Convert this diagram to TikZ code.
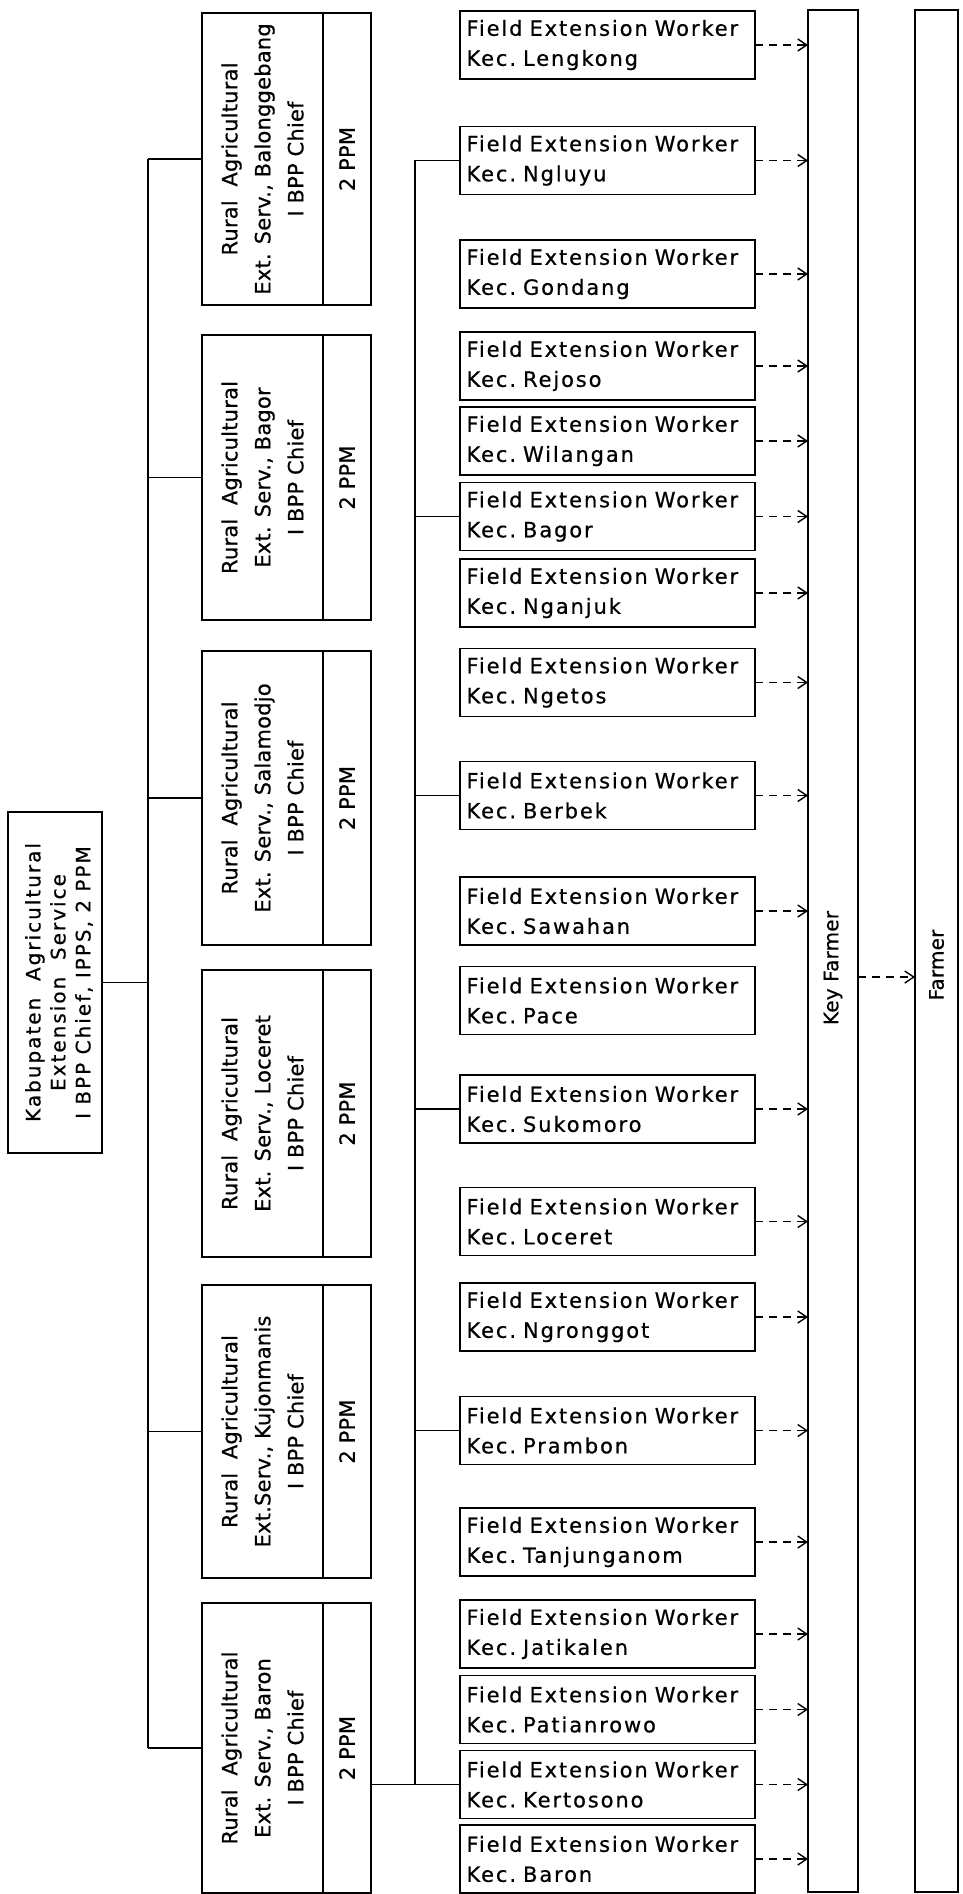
\documentclass[tikz,border=0pt]{standalone}
\usepackage{fontspec}
\setmainfont{DejaVu Sans}
\newfontfamily\kabfont[LetterSpace=10,FakeBold=0.6]{DejaVu Sans}
\newfontfamily\raesfont[LetterSpace=1,FakeBold=0.6]{DejaVu Sans}
\newfontfamily\fewfont[LetterSpace=9,FakeBold=0.6]{DejaVu Sans}
\newfontfamily\farmfont[LetterSpace=1,FakeBold=0.6]{DejaVu Sans}
\usetikzlibrary{arrows.meta,positioning}

\tikzset{
    box/.style={draw, line width=1.6pt, inner sep=0pt, outer sep=0pt},
    raesbox/.style={box, minimum width=121pt},
    ppmbox/.style={box, minimum width=48pt},
    fewbox/.style={box, minimum width=295pt, minimum height=68pt,
        text width=282pt, align=left,
        font={\fewfont\fontsize{21}{30}\selectfont}},
    farmbox/.style={box, minimum height=1882pt},
    raestext/.style={rotate=90, align=center,
        font={\raesfont\fontsize{21}{33}\selectfont}},
    farmtext/.style={rotate=90, font={\farmfont\fontsize{20}{24}\selectfont}},
    bus/.style={line width=1.4pt},
    flow/.style={line width=1.4pt, dash pattern=on 8pt off 6pt,
        -{Straight Barb[length=9pt,width=12pt,line width=1.4pt]}}
}

\begin{document}
\begin{tikzpicture}[x=1pt,y=-1pt]

    \useasboundingbox (0,0) rectangle (962,1894);

    % kabupaten office
    \node[box, minimum width=94pt, minimum height=341pt] (kab) at (55,982.5) {};
    \node[rotate=90, align=center, font={\kabfont\fontsize{20}{25}\selectfont}]
        at ([xshift=4pt]kab.center)
        {Kabupaten\ \ Agricultural\\Extension\ \ Service\\I BPP Chief, IPPS, 2 PPM};

    % rural agricultural extension services
    \foreach \n/\y/\h/\place in {
        1/159/292/{Ext. Serv., Balonggebang},
        2/477.5/285/{Ext. Serv., Bagor},
        3/798/294/{Ext. Serv., Salamodjo},
        4/1113.5/287/{Ext. Serv., Loceret},
        5/1431.5/293/{Ext.Serv., Kujonmanis},
        6/1748/290/{Ext. Serv., Baron}} {

        \node[raesbox, minimum height=\h pt] (raes\n) at (262.5,\y) {};
        \node[ppmbox, minimum height=\h pt, right=0pt of raes\n] (ppm\n) {};
        \node[raestext] at (raes\n) {Rural\ \ Agricultural\\\place\\I BPP Chief};
        \node[raestext] at (ppm\n) {2 PPM};

    }

    % field extension workers
    \foreach \n/\y/\kec in {
        1/45/Lengkong, 2/160.5/Ngluyu, 3/274/Gondang, 4/366/Rejoso,
        5/441/Wilangan, 6/516.5/Bagor, 7/593/Nganjuk, 8/682.5/Ngetos,
        9/795.5/Berbek, 10/911/Sawahan, 11/1000.5/Pace, 12/1109/Sukomoro,
        13/1221.5/Loceret, 14/1317/Ngronggot, 15/1430.5/Prambon,
        16/1542/Tanjunganom, 17/1634/Jatikalen, 18/1709.5/Patianrowo,
        19/1784.5/Kertosono, 20/1859/Baron} {
        \node[fewbox] (few\n) at (607.5,\y) {Field Extension Worker\\Kec.\ \kec};
    }

    % key farmer and farmer
    \node[farmbox, minimum width=50pt] (key) at (833,951) {};
    \node[farmbox, minimum width=43pt] (farmer) at (936.5,951) {};
    \node[farmtext] at ([yshift=-17pt]key.center) {Key Farmer};
    \node[farmtext] at ([yshift=-14pt]farmer.center) {Farmer};

    % spines
    \coordinate (spine) at (148,0);
    \coordinate (fewspine) at (415,0);
    \draw[bus] (spine |- raes1.west) -- (spine |- raes6.west);
    \foreach \n in {1,2,3,5,6} {
        \draw[bus] (spine |- raes\n.west) -- (raes\n.west);
    }
    \draw[bus] (kab.east) -- (spine |- kab.east);

    \draw[bus] (fewspine |- few2.west) -- (fewspine |- few19.west);
    \foreach \n in {2,6,9,12,15} {
        \draw[bus] (fewspine |- few\n.west) -- (few\n.west);
    }
    \draw[bus] (ppm6.east |- few19.west) -- (few19.west);

    % guidance to farmers
    \foreach \n in {1,...,10,12,13,...,20} {
        \draw[flow] (few\n.east) -- (key.west |- few\n.east);
    }
    \draw[flow] ([yshift=-26pt]key.east) -- ([yshift=-26pt]farmer.west);

\end{tikzpicture}
\end{document}
